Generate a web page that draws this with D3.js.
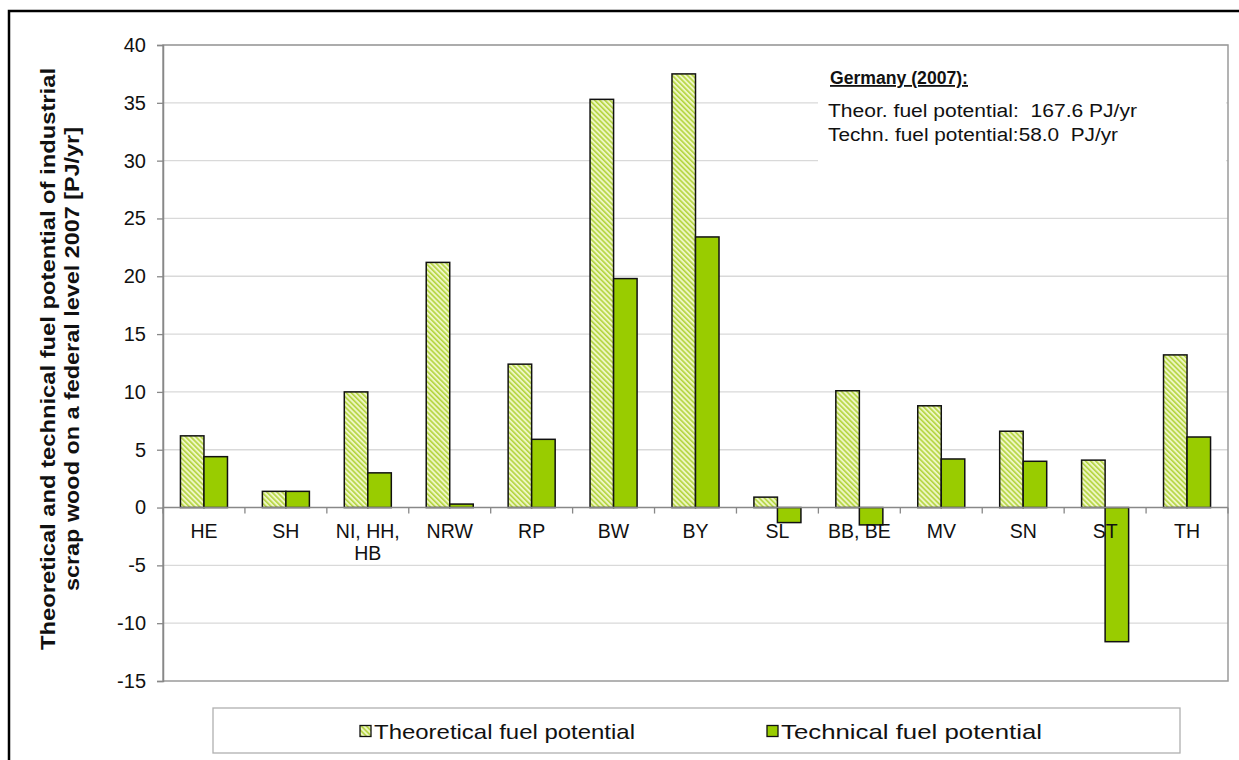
<!DOCTYPE html>
<meta charset="utf-8">
<style>
body{ margin:0; background:#fff; font-family: Arial, "Liberation Sans", sans-serif; }
svg text { font-family: Arial, "Liberation Sans", sans-serif; fill:#111; }
</style>
<body>
<script src="https://cdn.jsdelivr.net/npm/d3@7"></script>
<script>

// data
var regions = ["HE", "SH", "NI, HH, HB", "NRW", "RP", "BW", "BY", "SL", "BB, BE", "MV", "SN", "ST", "TH"];
var theoretical = [6.2, 1.4, 10.0, 21.2, 12.4, 35.3, 37.5, 0.9, 10.1, 8.8, 6.6, 4.1, 13.2];
var technical = [4.4, 1.4, 3.0, 0.3, 5.9, 19.8, 23.4, -1.3, -1.5, 4.2, 4.0, -11.6, 6.1];
var seriesNames = ["Theoretical fuel potential", "Technical fuel potential"];
var yTicks = [-15, -10, -5, 0, 5, 10, 15, 20, 25, 30, 35, 40];

var W = 1239, H = 760;
var pLeft = 163, pRight = 1228, pTop = 45, pBottom = 681;

var svg = d3.select("body").append("svg")
    .attr("width", W)
    .attr("height", H);

// hatch for the theoretical bars
var defs = svg.append("defs");
var pat = defs.append("pattern")
    .attr("id", "hatch")
    .attr("patternUnits", "userSpaceOnUse")
    .attr("width", 3.6).attr("height", 3.6)
    .attr("patternTransform", "rotate(-45)");
pat.append("rect").attr("width", 3.6).attr("height", 3.6).attr("fill", "#eef6c4");
pat.append("rect").attr("width", 1.6).attr("height", 3.6).attr("fill", "#b3d43e");

var fills = ["url(#hatch)", "#99cc00"];

// outer frame
svg.append("rect")
    .attr("x", 9).attr("y", 11)
    .attr("width", W + 20).attr("height", H + 20)
    .attr("fill", "none").attr("stroke", "#000").attr("stroke-width", 2.5);

var y = d3.scaleLinear().domain([-15, 40]).range([pBottom, pTop]);
var x0 = d3.scaleBand().domain(regions).range([pLeft, pRight])
    .paddingInner(0.426).paddingOuter(0.213);
var x1 = d3.scaleBand().domain(seriesNames).range([0, x0.bandwidth()]);

// gridlines
svg.append("g").selectAll("line")
    .data(yTicks.filter(function(d) { return d != -15 && d != 0; }))
  .enter().append("line")
    .attr("x1", pLeft).attr("x2", pRight)
    .attr("y1", function(d) { return y(d); })
    .attr("y2", function(d) { return y(d); })
    .attr("stroke", "#d9d9d9").attr("stroke-width", 1.3);

// plot frame
svg.append("rect")
    .attr("x", pLeft).attr("y", pTop)
    .attr("width", pRight - pLeft).attr("height", pBottom - pTop)
    .attr("fill", "none").attr("stroke", "#9a9a9a").attr("stroke-width", 1.5);

// white box behind the note
svg.append("rect")
    .attr("x", 818).attr("y", 56)
    .attr("width", 408).attr("height", 112)
    .attr("fill", "#fff");

// y axis (plain hyphen for negatives, like the original)
var yAxis = svg.append("g")
    .attr("transform", "translate(" + pLeft + ",0)")
    .call(d3.axisLeft(y).tickValues(yTicks).tickSize(6).tickPadding(11)
      .tickFormat(function(d) { return String(d); }));
yAxis.select(".domain").attr("stroke", "#888").attr("stroke-width", 1.5);
yAxis.selectAll(".tick line").attr("stroke", "#888").attr("stroke-width", 1.3);
yAxis.selectAll("text").style("font-size", "20px").attr("fill", "#111");

// bars
var rows = regions.map(function(r, i) { return {region: r, values: [theoretical[i], technical[i]]}; });
var groups = svg.append("g").selectAll("g")
    .data(rows)
  .enter().append("g")
    .attr("transform", function(d) { return "translate(" + x0(d.region) + ",0)"; });
groups.selectAll("rect")
    .data(function(d) { return d.values.map(function(v, j) { return {name: seriesNames[j], v: v, j: j}; }); })
  .enter().append("rect")
    .attr("x", function(d) { return x1(d.name); })
    .attr("width", x1.bandwidth())
    .attr("y", function(d) { return y(Math.max(0, d.v)); })
    .attr("height", function(d) { return Math.abs(y(d.v) - y(0)); })
    .attr("fill", function(d) { return fills[d.j]; })
    .attr("stroke", "#111").attr("stroke-width", 1.5);

// zero line with category ticks
svg.append("line")
    .attr("x1", pLeft).attr("x2", pRight)
    .attr("y1", y(0)).attr("y2", y(0))
    .attr("stroke", "#888").attr("stroke-width", 1.5);
var step = x0.step();
svg.append("g").selectAll("line")
    .data(d3.range(regions.length + 1))
  .enter().append("line")
    .attr("x1", function(i) { return pLeft + i * step; })
    .attr("x2", function(i) { return pLeft + i * step; })
    .attr("y1", y(0)).attr("y2", y(0) + 6)
    .attr("stroke", "#888").attr("stroke-width", 1.3);

// category labels
var catLabels = {"NI, HH, HB": ["NI, HH,", "HB"]};
svg.append("g").selectAll("text")
    .data(regions)
  .enter().append("text")
    .attr("x", function(d) { return x0(d) + x0.bandwidth() / 2; })
    .attr("y", y(0) + 30)
    .attr("text-anchor", "middle")
    .style("font-size", "19.5px")
    .each(function(d) {
      var lines = catLabels[d] || [d];
      var t = d3.select(this);
      lines.forEach(function(l, k) {
        t.append("tspan")
          .attr("x", x0(d) + x0.bandwidth() / 2)
          .attr("dy", k == 0 ? 0 : 22)
          .text(l);
      });
    });

// y axis title
var yt = svg.append("text")
    .attr("transform", "translate(61,359) rotate(-90)")
    .attr("text-anchor", "middle")
    .style("font-size", "20px").style("font-weight", "bold");
yt.append("tspan").attr("x", 0).attr("dy", -6).attr("textLength", 582)
    .attr("lengthAdjust", "spacingAndGlyphs")
    .text("Theoretical and technical fuel potential of industrial");
yt.append("tspan").attr("x", 0).attr("dy", 24).attr("textLength", 464)
    .attr("lengthAdjust", "spacingAndGlyphs")
    .text("scrap wood on a federal level 2007 [PJ/yr]");

// note
svg.append("text")
    .attr("x", 830).attr("y", 84)
    .style("font-size", "18px").style("font-weight", "bold")
    .style("text-decoration", "underline")
    .attr("textLength", 138).attr("lengthAdjust", "spacingAndGlyphs")
    .text("Germany (2007):");
svg.append("text")
    .attr("x", 828).attr("y", 117)
    .style("font-size", "18px").style("white-space", "pre")
    .attr("textLength", 309).attr("lengthAdjust", "spacingAndGlyphs")
    .text("Theor. fuel potential:  167.6 PJ/yr");
svg.append("text")
    .attr("x", 828).attr("y", 141)
    .style("font-size", "18px").style("white-space", "pre")
    .attr("textLength", 290).attr("lengthAdjust", "spacingAndGlyphs")
    .text("Techn. fuel potential:58.0  PJ/yr");

// legend
svg.append("rect")
    .attr("x", 213).attr("y", 708)
    .attr("width", 967).attr("height", 45)
    .attr("fill", "#fff").attr("stroke", "#b0b0b0").attr("stroke-width", 1.3);
var legendX = [360, 767];
var lg = svg.append("g").selectAll("g")
    .data(seriesNames)
  .enter().append("g")
    .attr("transform", function(d, i) { return "translate(" + legendX[i] + ",731)"; });
lg.append("rect")
    .attr("x", 0).attr("y", -5.5)
    .attr("width", 11).attr("height", 11)
    .attr("fill", function(d, i) { return fills[i]; })
    .attr("stroke", "#111").attr("stroke-width", 1.3);
lg.append("text")
    .attr("x", 14).attr("y", 8)
    .style("font-size", "21px")
    .attr("textLength", 261).attr("lengthAdjust", "spacingAndGlyphs")
    .text(function(d) { return d; });

</script>
